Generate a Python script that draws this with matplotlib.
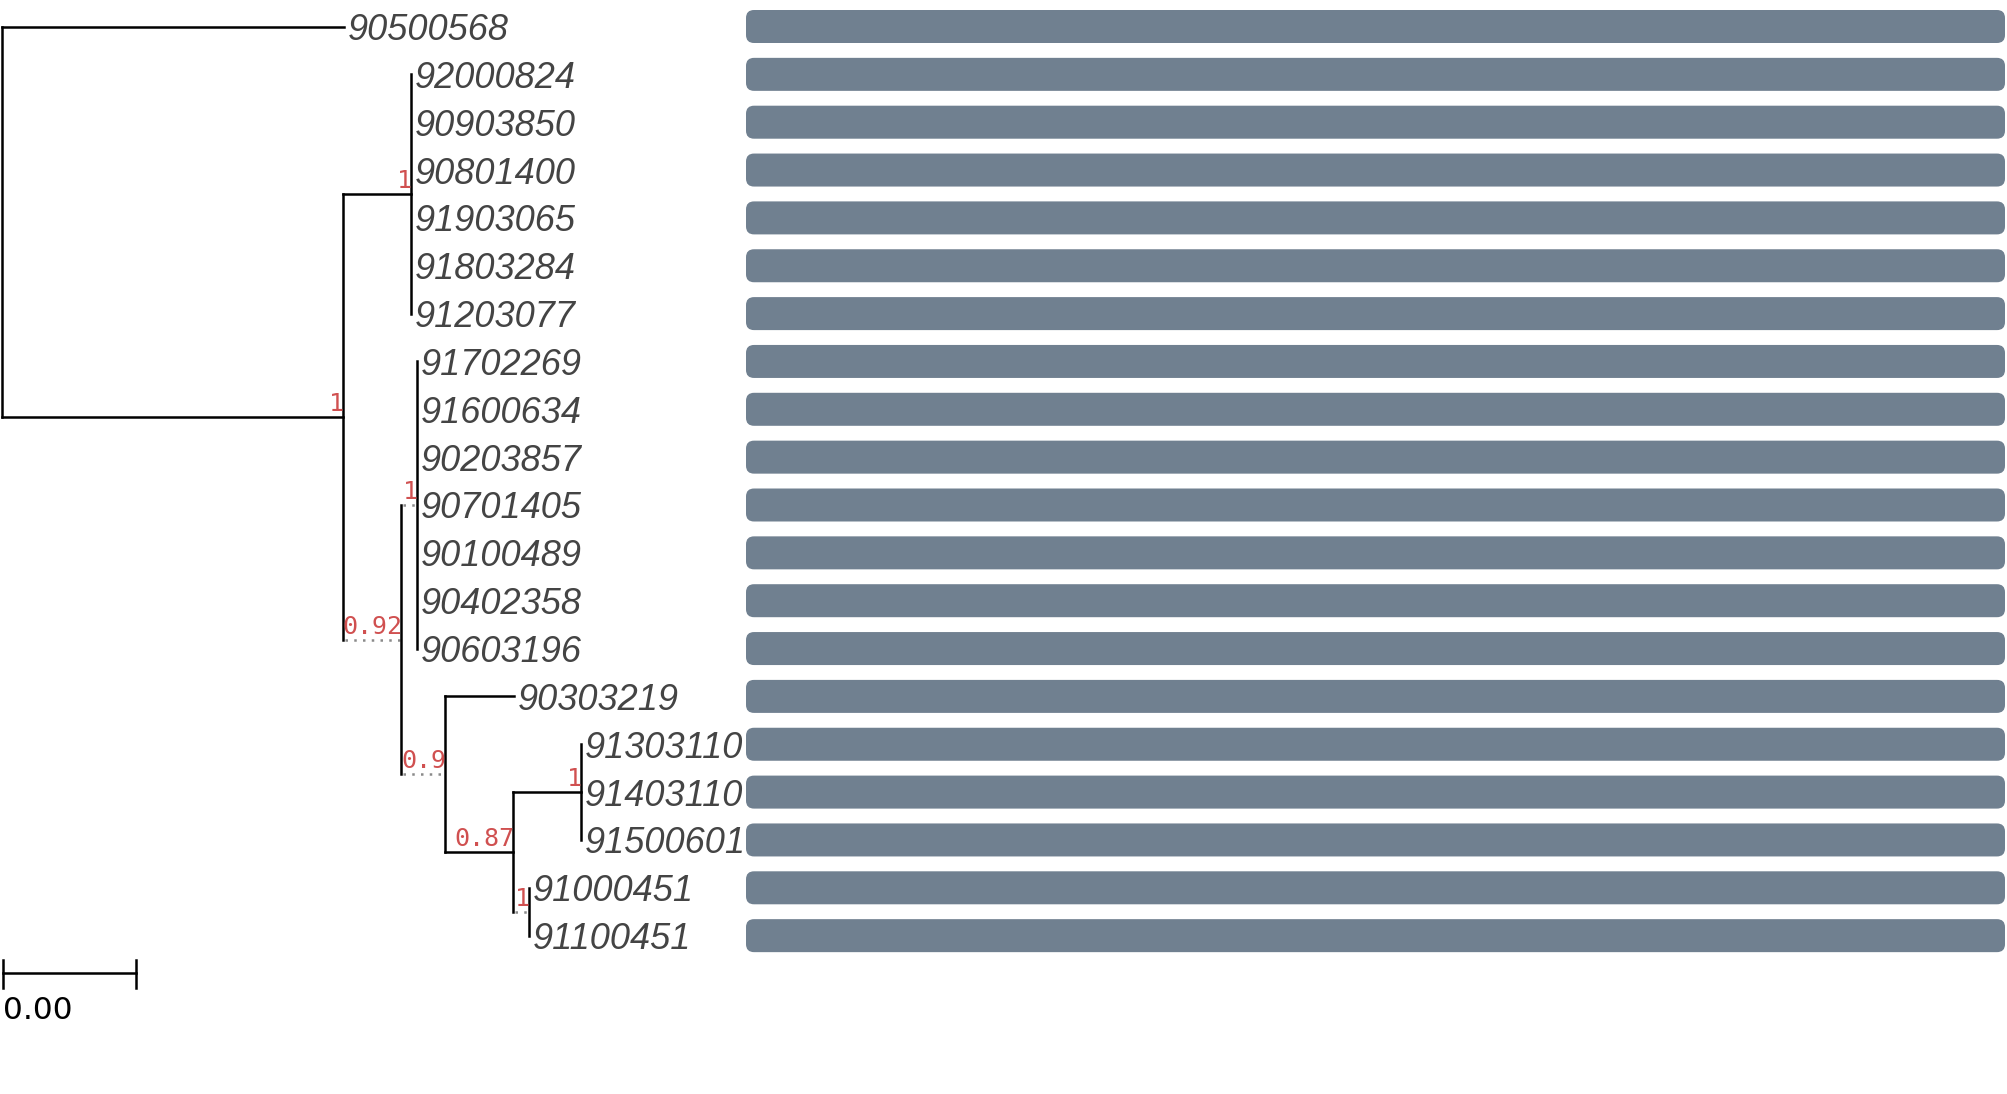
import matplotlib
matplotlib.use('Agg')
import matplotlib.pyplot as plt
from matplotlib.patches import FancyBboxPatch

# ---- tree data (parent index, tip name, branch length, support) ----
node_parent = [-1, 0, 0, 2, 3, 3, 3, 3, 3, 3, 2, 10, 11, 11, 11, 11, 11, 11, 11,
               10, 19, 19, 21, 22, 22, 22, 21, 26, 26]
node_name = ['', '90500568', '', '',
             '92000824', '90903850', '90801400', '91903065', '91803284', '91203077',
             '', '',
             '91702269', '91600634', '90203857', '90701405', '90100489', '90402358', '90603196',
             '', '90303219', '', '',
             '91303110', '91403110', '91500601',
             '', '91000451', '91100451']
node_length = [0.0, 0.00515, 0.00513, 0.00102,
               0.0, 0.0, 0.0, 0.0, 0.0, 0.0,
               0.0, 0.0,
               0.0, 0.0, 0.0, 0.0, 0.0, 0.0, 0.0,
               0.0, 0.00104, 0.00102, 0.00102,
               0.0, 0.0, 0.0,
               0.0, 0.0, 0.0]
node_support = ['', '', '1', '1',
                '', '', '', '', '', '',
                '0.92', '1',
                '', '', '', '', '', '', '',
                '0.9', '', '0.87', '1',
                '', '', '',
                '1', '', '']
# bar face value per leaf (top to bottom), percent of full width
bar_values = [100, 100, 100, 100, 100, 100, 100, 100, 100, 100,
              100, 100, 100, 100, 100, 100, 100, 100, 100, 100]
scale_length = 0.002
scale_label = '0.00'

# ---- layout constants (pixels) ----
W, H = 2007, 1094
px_per_unit = 66500.0
x_root = 2.0
y0, row_h = 26.5, 47.85
char_w, face_pad = 14, 2
bar_x0, bar_w, bar_h = 746, 1259, 33

fig = plt.figure(figsize=(W / 100, H / 100), dpi=100)
ax = fig.add_axes([0, 0, 1, 1])
ax.set_xlim(0, W)
ax.set_ylim(H, 0)
ax.axis('off')

n = len(node_parent)
children = {i: [] for i in range(n)}
for i, p in enumerate(node_parent):
    if p >= 0:
        children[p].append(i)

xs = [0.0] * n
ys = [0.0] * n
solid_end = [0.0] * n
leaf_order = []


def face_width(s):
    return len(s) * char_w + face_pad if s else 0


def layout(node, x):
    xs[node] = x
    kids = children[node]
    if not kids:
        ys[node] = y0 + len(leaf_order) * row_h
        leaf_order.append(node)
        return
    for k in kids:
        solid = node_length[k] * px_per_unit
        ext = face_width(node_support[k])
        solid_end[k] = x + solid
        layout(k, x + max(solid, ext))
    ys[node] = (ys[kids[0]] + ys[kids[-1]]) / 2


layout(0, x_root)

lw = 1.8
line_col = 'black'
for k in range(n):
    p = node_parent[k]
    if p >= 0:
        xp = xs[p]
        if solid_end[k] > xp:
            ax.plot([xp, solid_end[k]], [ys[k], ys[k]], color=line_col, lw=lw,
                    solid_capstyle='projecting', zorder=3)
        if xs[k] > solid_end[k] + 0.5:
            ax.plot([solid_end[k] + 2, xs[k]], [ys[k], ys[k]], color='#8a8a8a', lw=1.8,
                    linestyle=(0, (1, 2.5)), zorder=2)
    kids = children[k]
    if kids:
        ax.plot([xs[k], xs[k]], [ys[kids[0]], ys[kids[-1]]], color=line_col, lw=lw,
                solid_capstyle='projecting', zorder=3)

# support labels
for k in range(n):
    if node_support[k]:
        ax.text(xs[k] + 1, ys[k] - 6, node_support[k], ha='right', va='baseline',
                fontsize=18, family='DejaVu Sans Mono', color='#d05050', zorder=4)

# tip labels and bars
for i, k in enumerate(leaf_order):
    ax.text(xs[k] + 3.5, ys[k] + 13.5, node_name[k], ha='left', va='baseline',
            fontsize=26, style='italic', family=['Liberation Sans', 'DejaVu Sans'],
            color='#444444', zorder=4)
    bw = bar_w * bar_values[i] / 100.0
    ax.add_patch(FancyBboxPatch((bar_x0, ys[k] - bar_h / 2), bw, bar_h,
                                boxstyle='round,pad=0,rounding_size=8',
                                facecolor='#708090', edgecolor='none', zorder=1))

# scale bar
sb_len = scale_length * px_per_unit
sb_x, sb_y = 3, 973
ax.plot([sb_x, sb_x + sb_len], [sb_y, sb_y], color='black', lw=1.8)
ax.plot([sb_x, sb_x], [sb_y - 13, sb_y + 15], color='black', lw=1.8)
ax.plot([sb_x + sb_len, sb_x + sb_len], [sb_y - 13, sb_y + 15], color='black', lw=1.8)
ax.text(sb_x, 996, scale_label, ha='left', va='top', fontsize=22.5,
        family='DejaVu Sans', color='black')

fig.savefig('out.png', dpi=100)
